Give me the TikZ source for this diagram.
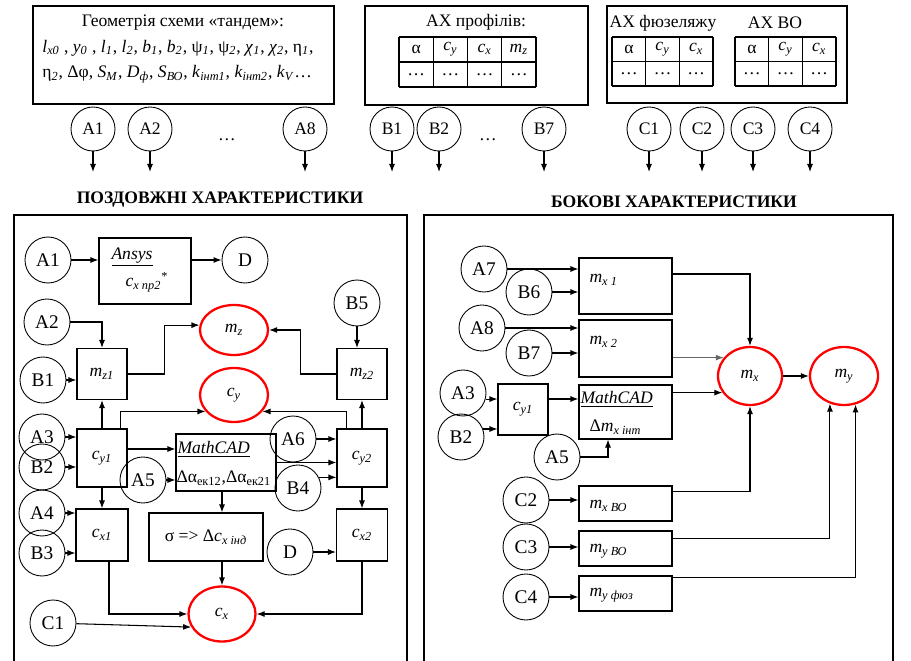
\documentclass[tikz,border=0pt]{standalone}
\usepackage{fontspec}
\setmainfont{Liberation Serif}
\usetikzlibrary{arrows.meta, shapes.geometric, calc}

\newcommand\vsub[2]{\textit{#1}\textsubscript{\textit{#2}}}
\newcommand\usub[2]{#1\textsubscript{\textit{#2}}}

\begin{document}
\begin{tikzpicture}[x=0.2mm, y=-0.2mm, line width=0.6pt,
  inp/.style={draw, circle, minimum size=9.2mm, inner sep=0pt, line width=0.5pt, font=\fontsize{11}{13}\selectfont},
  topinp/.style={inp, minimum size=8.8mm, font=\normalsize},
  blk/.style={draw, rectangle, inner sep=1pt},
  res/.style={draw=red, line width=1.3pt, ellipse, inner sep=0pt},
  arr/.style={-{Latex[length=1.6mm, width=1.2mm]}},
  tab/.style={line width=0.8pt}]
  \useasboundingbox (0,0) rectangle (911,661);

  % source data
  \begin{scope}
    \draw (33,6) rectangle (334,104);
    \node at (183,23) {Геометрія схеми «тандем»:};
    \node[anchor=west] at (36,48) {\vsub{l}{x0} , \vsub{y}{0} , \vsub{l}{1}, \vsub{l}{2}, \vsub{b}{1}, \vsub{b}{2}, \usub{ψ}{1}, \usub{ψ}{2}, \vsub{χ}{1}, \vsub{χ}{2}, \usub{η}{1},};
    \node[anchor=west] at (36,74) {\usub{η}{2}, Δφ, \vsub{S}{M}, \vsub{D}{ф}, \vsub{S}{ВО}, \vsub{k}{інт1}, \vsub{k}{інт2}, \vsub{k}{V}\dots};

    \draw (365,6) rectangle (588,105);
    \node at (476,22) {АХ профілів:};
    \foreach \x in {399,433.25,467.5,501.75,536} \draw[tab] (\x,37) -- (\x,87);
    \foreach \y in {37,62,87} \draw[tab] (399,\y) -- (536,\y);
    \foreach \t [count=\i] in {α, \vsub{c}{y}, \vsub{c}{x}, \vsub{m}{z}} {
      \node at ({399+34.25*(\i-0.5)},49.5) {\t};
      \node at ({399+34.25*(\i-0.5)},74.5) {\dots};
    }

    \draw (607,6) rectangle (847,103);
    \node at (663,23) {АХ фюзеляжу};
    \node at (775,23) {АХ ВО};
    \foreach \xa in {612,735} {
      \foreach \x in {0,33.7,67.4,101.1} \draw[tab] (\xa+\x,37) -- (\xa+\x,86);
      \foreach \y in {37,61.5,86} \draw[tab] (\xa,\y) -- (\xa+101.1,\y);
      \foreach \t [count=\i] in {α, \vsub{c}{y}, \vsub{c}{x}} {
        \node at ({\xa+33.7*(\i-0.5)},49) {\t};
        \node at ({\xa+33.7*(\i-0.5)},74) {\dots};
      }
    }

    \foreach \n/\x in {A1/93, A2/150, A8/305, B1/392, B2/439, B7/544, C1/649, C2/702, C3/753, C4/810} {
      \node[topinp] (t\n) at (\x,129) {\n};
      \coordinate (t\n e) at (\x,172);
      \draw[arr] (t\n) -- (t\n e);
    }
    \node at (227,140) {\dots};
    \node at (488,140) {\dots};

    \node[font=\bfseries] (ttlong) at (220,200) {ПОЗДОВЖНІ ХАРАКТЕРИСТИКИ};
    \node[font=\bfseries] (ttlat) at (674,202) {БОКОВІ ХАРАКТЕРИСТИКИ};
  \end{scope}

  % longitudinal characteristics
  \begin{scope}
    \draw (14,661) |- (407,215) -- (407,661);
    \node[inp] (lA1) at (48,260) {A1};
    \node[blk, minimum width=18.4mm, minimum height=13.2mm] (ansys) at (145,271) {};
    \node at (132,257) {\underline{\textit{Ansys}}};
    \node at (147,282) {\vsub{c}{x пр2}\textsuperscript{*}};
    \node[inp] (lD) at (245,260) {D};
    \draw[arr] (lA1) -- (lA1 -| ansys.west);
    \draw[arr] (ansys.east |- lD) -- (lD);

    \node[inp] (lA2) at (47,322) {A2};
    \node[inp] (lB1) at (43,380) {B1};
    \node[blk, minimum width=10mm, minimum height=10.2mm] (mz1) at (102,374) {\vsub{m}{z1}};
    \node[inp] (lB5) at (357,303) {B5};
    \node[blk, minimum width=10mm, minimum height=10.2mm] (mz2) at (362,374) {\vsub{m}{z2}};
    \node[res, minimum width=13.6mm, minimum height=10mm] (mz) at (234,330) {\vsub{m}{z}};
    \node[res, minimum width=13.6mm, minimum height=10.8mm] (cy) at (234,395) {\vsub{c}{y}};
    \draw[arr] (lA2) -| (mz1);
    \draw[arr] (lB1) -- (lB1 -| mz1.west);
    \draw[arr] (lB5) -- (lB5 |- mz2.north);
    \draw[arr] (mz1.east) -- ++(37,0) |- (mz.172);
    \draw[arr] (mz2.west) -- ++(-36,0) |- (mz.east);

    \node[inp] (lA3) at (42,437) {A3};
    \node[inp] (lB2) at (42,467) {B2};
    \node[blk, minimum width=10mm, minimum height=11.6mm] (cy1) at (102,458) {\vsub{c}{y1}};
    \node[blk, minimum width=20mm, minimum height=11.4mm] (mcad) at (226,462.5) {};
    \node[anchor=west, inner sep=0pt] (mcadt) at (177,449) {\underline{\textit{MathCAD}}};
    \node[anchor=west, inner sep=0pt] at (176,478) {Δα\textsubscript{ек12},Δα\textsubscript{ек21}};
    \node[inp] (lA5) at (143,480) {A5};
    \node[inp] (lA6) at (293,439) {A6};
    \node[inp] (lB4) at (298,488) {B4};
    \node[blk, minimum width=10mm, minimum height=11.6mm] (cy2) at (362,458) {\vsub{c}{y2}};
    \draw[arr] (lA3) -- (lA3 -| cy1.west);
    \draw[arr] (lB2) -- (lB2 -| cy1.west);
    \draw[arr] (cy1) -- (mz1);
    \draw[arr] ([xshift=-1.4mm]cy1.north east) |- (cy.210);
    \draw[arr] (cy1.east |- mcadt) -- (mcadt -| mcad.west);
    \draw[arr] (lA5) -- (lA5 -| mcad.west);
    \draw[arr] (lA6) -- (lA6 -| cy2.west);
    \draw[arr] (mcad.east) -- (mcad.east -| cy2.west);
    \draw[arr] (lB4.27) -- (lB4.27 -| cy2.west);
    \draw[arr] (cy2) -- (mz2);
    \draw[arr] ([xshift=2mm]cy2.north west) |- (cy.330);

    \node[inp] (lA4) at (42,513) {A4};
    \node[inp] (lB3) at (42,553) {B3};
    \node[blk, minimum width=10.4mm, minimum height=10.4mm] (cx1) at (102,535) {\vsub{c}{x1}};
    \node[blk, minimum width=22.8mm, minimum height=9.6mm] (sig) at (206,537) {σ => Δ\vsub{c}{x інд}};
    \node[inp] (lD2) at (290,552) {D};
    \node[blk, minimum width=10.2mm, minimum height=10.4mm] (cx2) at (362,535) {\vsub{c}{x2}};
    \node[res, minimum width=13.4mm, minimum height=11mm] (cx) at (222,614) {\vsub{c}{x}};
    \node[inp] (lC1) at (53,623) {C1};
    \draw[arr] (lA4) -- (lA4 -| cx1.west);
    \draw[arr] (lB3) -- (lB3 -| cx1.west);
    \draw[arr] (cy1) -- (cx1);
    \draw[arr] (cy2) -- (cx2);
    \draw[arr] (lD2) -- (lD2 -| cx2.west);
    \draw[arr] (mcad.south -| cx) -- (sig.north -| cx);
    \draw[arr] (sig.south -| cx) -- (cx);
    \draw[arr] ([xshift=1.4mm]cx1.south) |- (cx.west);
    \draw[arr] (cx2.south) |- (cx.east);
    \draw[arr] (lC1) -- (cx.203);
  \end{scope}

  % lateral characteristics
  \begin{scope}
    \draw (424,661) |- (893,215) -- (893,661);
    \node[inp] (rA7) at (484,269) {A7};
    \node[inp] (rB6) at (529,292) {B6};
    \node[blk, minimum width=18.6mm, minimum height=11.2mm] (mx1) at (625.5,286) {};
    \node[anchor=west, inner sep=0pt] at (589,280) {\vsub{m}{x 1}};
    \node[inp] (rA8) at (482,328) {A8};
    \node[inp] (rB7) at (529,353) {B7};
    \node[blk, minimum width=18.6mm, minimum height=11.4mm] (mx2) at (625.5,348.5) {};
    \node[anchor=west, inner sep=0pt] at (589,342) {\vsub{m}{x 2}};
    \draw[arr] (rA7) -- (rA7 -| mx1.west);
    \draw[arr] (rB6) -- (rB6 -| mx1.west);
    \draw[arr] (rA8) -- (rA8 -| mx2.west);
    \draw[arr] (rB7) -- (rB7 -| mx2.west);

    \node[inp] (rA3) at (463,393) {A3};
    \node[inp] (rB2) at (461,437) {B2};
    \node[blk, minimum width=10mm, minimum height=10.2mm] (cyr) at (523,409.5) {\vsub{c}{y1}};
    \node[blk, minimum width=18.6mm, minimum height=10.8mm] (mcadr) at (625.5,412) {};
    \node[anchor=west, inner sep=0pt] (mcadrt) at (580,399) {\underline{\textit{MathCAD}}};
    \node[anchor=west, inner sep=0pt] at (589,427) {Δ\vsub{m}{x інт}};
    \node[inp] (rA5) at (557,457) {A5};
    \draw[arr] (rA3.-15) -- (rA3.-15 -| cyr.west);
    \draw[arr] (rB2.20) -- (rB2.20 -| cyr.west);
    \draw[arr] (cyr.east |- mcadrt) -- (mcadrt -| mcadr.west);
    \draw[arr] (rA5) -| ([xshift=-3.5mm]mcadr.south);

    \node[res, minimum width=12.8mm, minimum height=11.6mm] (mx) at (750,376) {\vsub{m}{x}};
    \node[res, minimum width=13.6mm, minimum height=11.6mm] (my) at (844,376) {\vsub{m}{y}};
    \draw[arr] ([yshift=2.4mm]mx1.east) -| (mx);
    \draw[arr, black!60] (mx2.east |- mx.145) -- (mx.145);
    \draw[arr] (mcadr.east |- mx.211) -- (mx.211);
    \draw[arr] (mx) -- (my);

    \node[inp] (rC2) at (526,500) {C2};
    \node[blk, minimum width=18.6mm, minimum height=7mm] (mxbo) at (625.5,503.5) {};
    \node[anchor=west, inner sep=0pt] at (589,506) {\vsub{m}{x ВО}};
    \node[inp] (rC3) at (526,547) {C3};
    \node[blk, minimum width=18.6mm, minimum height=7mm] (mybo) at (625.5,548.5) {};
    \node[anchor=west, inner sep=0pt] at (589,551) {\vsub{m}{y ВО}};
    \node[inp] (rC4) at (526,597) {C4};
    \node[blk, minimum width=18.6mm, minimum height=7mm] (myf) at (625.5,593.5) {};
    \node[anchor=west, inner sep=0pt] at (589,595) {\vsub{m}{y фюз}};
    \draw[arr] (rC2) -- (rC2 -| mxbo.west);
    \draw[arr] (rC3) -- (rC3 -| mybo.west);
    \draw[arr] (rC4) -- (rC4 -| myf.west);
    \draw[arr] ([yshift=-1.2mm]mxbo.north east) -| (mx.south);
    \draw[arr] ([yshift=-1.6mm]mybo.north east) -| (my.243);
    \draw[arr] ([yshift=-0.4mm]myf.north east) -| (my.292);
  \end{scope}
\end{tikzpicture}
\end{document}
